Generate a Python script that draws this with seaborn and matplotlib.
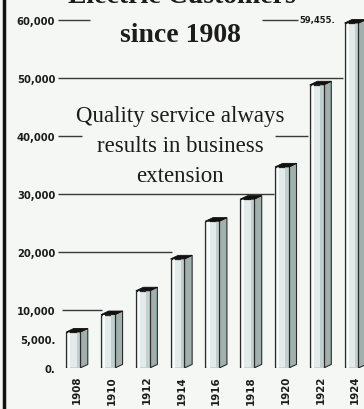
import matplotlib
matplotlib.use("Agg")
import matplotlib.pyplot as plt
from matplotlib.patches import Polygon
import seaborn as sns
import pandas as pd

years = ["1908", "1910", "1912", "1914", "1916", "1918", "1920", "1922", "1924"]
customers = [6200, 9200, 13300, 18800, 25300, 29100, 34650, 48800, 59455]
tick_values = [0, 5000, 10000, 20000, 30000, 40000, 50000, 60000]
tick_labels = ["0.", "5,000.", "10,000", "20,000", "30,000", "40,000", "50,000", "60,000"]
last_label = "59,455."

sns.set_theme(style="white")
plt.rcParams["font.family"] = ["DejaVu Sans"]

paper = "#f5f7f4"
ink = "#1c1c1c"

fig = plt.figure(figsize=(3.64, 4.10), dpi=100, facecolor=paper)
ax = fig.add_axes([58 / 364, 41 / 410, 1 - 58 / 364, 1 - 41 / 410])
ax.set_facecolor(paper)

df = pd.DataFrame({"year": years, "customers": customers})

# leader lines from the scale labels (drawn behind the bars)
xl = -0.546
leaders = [
    (60000, xl, 0.37),
    (50000, xl, 7.64),
    (40000, xl, 0.14),
    (40000, 5.69, 6.64),
    (30000, xl, 5.66),
    (20000, xl, 2.73),
    (10000, -0.43, 0.72),
    (59455 + 540, 5.32, 6.35),
]
for y, a, b in leaders:
    ax.plot([a, b], [y, y], color="#3a3a3a", lw=1.0, zorder=1, solid_capstyle="butt")

w = 0.40
depth_x = 0.22
depth_y = 620
sns.barplot(data=df, x="year", y="customers", ax=ax, width=w,
            color="#e2ebe9", edgecolor="#2b2b2b", linewidth=0.9,
            saturation=1, zorder=3)

# side and top faces give each column its solid look
for p in ax.patches:
    p.set_x(p.get_x() - depth_x / 2)
    x0, h = p.get_x(), p.get_height()
    x1 = x0 + p.get_width()
    # highlight strip on the front face
    ax.add_patch(Polygon([(x0 + 0.06, 0), (x0 + 0.12, 0), (x0 + 0.12, h), (x0 + 0.06, h)],
                         closed=True, facecolor="#f7fbfa", edgecolor="none", zorder=3.5))
    ax.add_patch(Polygon([(x1 - 0.1, 0), (x1, 0), (x1, h), (x1 - 0.1, h)],
                         closed=True, facecolor="#c2d0cd", edgecolor="none", zorder=3.5))
    ax.plot([x1, x1], [0, h], color="#2b2b2b", lw=0.9, zorder=4)
    ax.add_patch(Polygon([(x1, 0), (x1 + depth_x, depth_y), (x1 + depth_x, h + depth_y), (x1, h)],
                         closed=True, facecolor="#9fb0ad", edgecolor="#2b2b2b", lw=0.8, zorder=3))
    ax.add_patch(Polygon([(x0, h), (x0 + depth_x, h + depth_y), (x1 + depth_x, h + depth_y), (x1, h)],
                         closed=True, facecolor="#111111", edgecolor="#111111", lw=0.6, zorder=4))

ax.set_xlim(-0.546, 8.25)
ax.set_ylim(0, 63600)
ax.set_yticks(tick_values)
ax.set_yticklabels(tick_labels, fontsize=7.2, fontweight="bold", color=ink)
ax.tick_params(axis="y", length=0, pad=2)
ax.tick_params(axis="x", length=0, pad=5)
ax.set_xticks(range(len(years)))
ax.set_xticklabels(years, rotation=90, fontsize=7.4, fontweight="bold", color=ink)
ax.set_xlabel("")
ax.set_ylabel("")
for s in ax.spines.values():
    s.set_visible(False)

ax.text(6.38, 60000, last_label, fontsize=6.0, fontweight="bold", color=ink,
        ha="left", va="center", zorder=5)

serif = ["Liberation Serif", "DejaVu Serif"]
fig.text(0.5, 1 - 3 / 410, "Electric Customers", ha="center", va="baseline",
         fontsize=20, fontweight="bold", family=serif, color=ink)
fig.text(180 / 364, 1 - 42 / 410, "since 1908", ha="center", va="baseline",
         fontsize=20, fontweight="bold", family=serif, color=ink)
fig.text(180 / 364, 1 - 106 / 410, "Quality service always\nresults in business\nextension",
         ha="center", va="top", multialignment="center", linespacing=1.55,
         fontsize=16.5, family=serif, color=ink)

# frame rule down the left edge
fig.add_artist(plt.Line2D([4 / 364, 4 / 364], [0, 1], color="#111111", lw=2.5,
                          transform=fig.transFigure))

fig.savefig("out.png", dpi=100, facecolor=paper)
